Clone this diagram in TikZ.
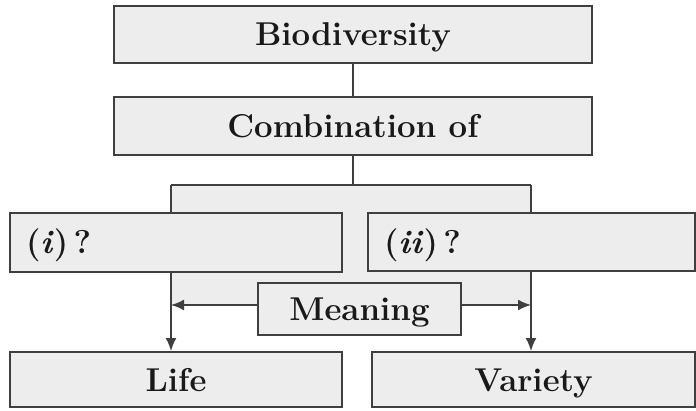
\documentclass[tikz,border=0pt]{standalone}
\usetikzlibrary{arrows.meta}
\definecolor{boxfill}{HTML}{EDEDED}
\definecolor{boxline}{HTML}{3F3F3F}
\begin{document}
\begin{tikzpicture}[x=0.5pt,y=-0.5pt,
  box/.style={draw=boxline, fill=boxfill, line width=0.95pt, inner sep=0pt,
    font=\fontsize{16.5}{19}\selectfont\bfseries, text=black!90,
    text height=12.5pt, text depth=1pt},
  leftbox/.style={box, align=left, inner xsep=8pt},
  conn/.style={draw=boxline, line width=0.95pt},
  arr/.style={conn, -{Latex[length=6.5pt,width=5.5pt]}}]
\useasboundingbox (0,0) rectangle (696,411);
% bracket background
\fill[boxfill] (171,185) rectangle (531,305);
\node[box, minimum width=239pt, minimum height=28.5pt] (bio) at (353,34.5) {Biodiversity};
\node[box, minimum width=239pt, minimum height=29pt] (comb) at (353,126) {Combination of};
\coordinate (join) at (353,185);
\coordinate (tl) at (171,185);
\coordinate (tr) at (531,185);
\node[box, minimum width=166pt, minimum height=27.5pt] (life) at (176,379.5) {Life};
\node[box, minimum width=161.5pt, minimum height=27.5pt] (variety) at (533.5,379.5) {Variety};
\draw[conn] (bio) -- (comb);
\draw[conn] (comb) -- (join);
\draw[conn] (tl) -- (tr);
\draw[arr] (tl) -- (tl |- life.north);
\draw[arr] (tr) -- (tr |- variety.north);
\node[leftbox, text width=150pt, minimum height=29.5pt] (first) at (176,242.5) {(\textit{i})\,?};
\node[leftbox, text width=147.5pt, minimum height=29pt] (second) at (531.5,242) {(\textit{ii})\,?};
\node[box, minimum width=101.5pt, minimum height=26pt] (meaning) at (359.5,309) {Meaning};
\draw[arr] ([yshift=2pt]meaning.west) -- ([yshift=2pt]meaning.west -| tl);
\draw[arr] ([yshift=2pt]meaning.east) -- ([yshift=2pt]meaning.east -| tr);
\end{tikzpicture}
\end{document}
